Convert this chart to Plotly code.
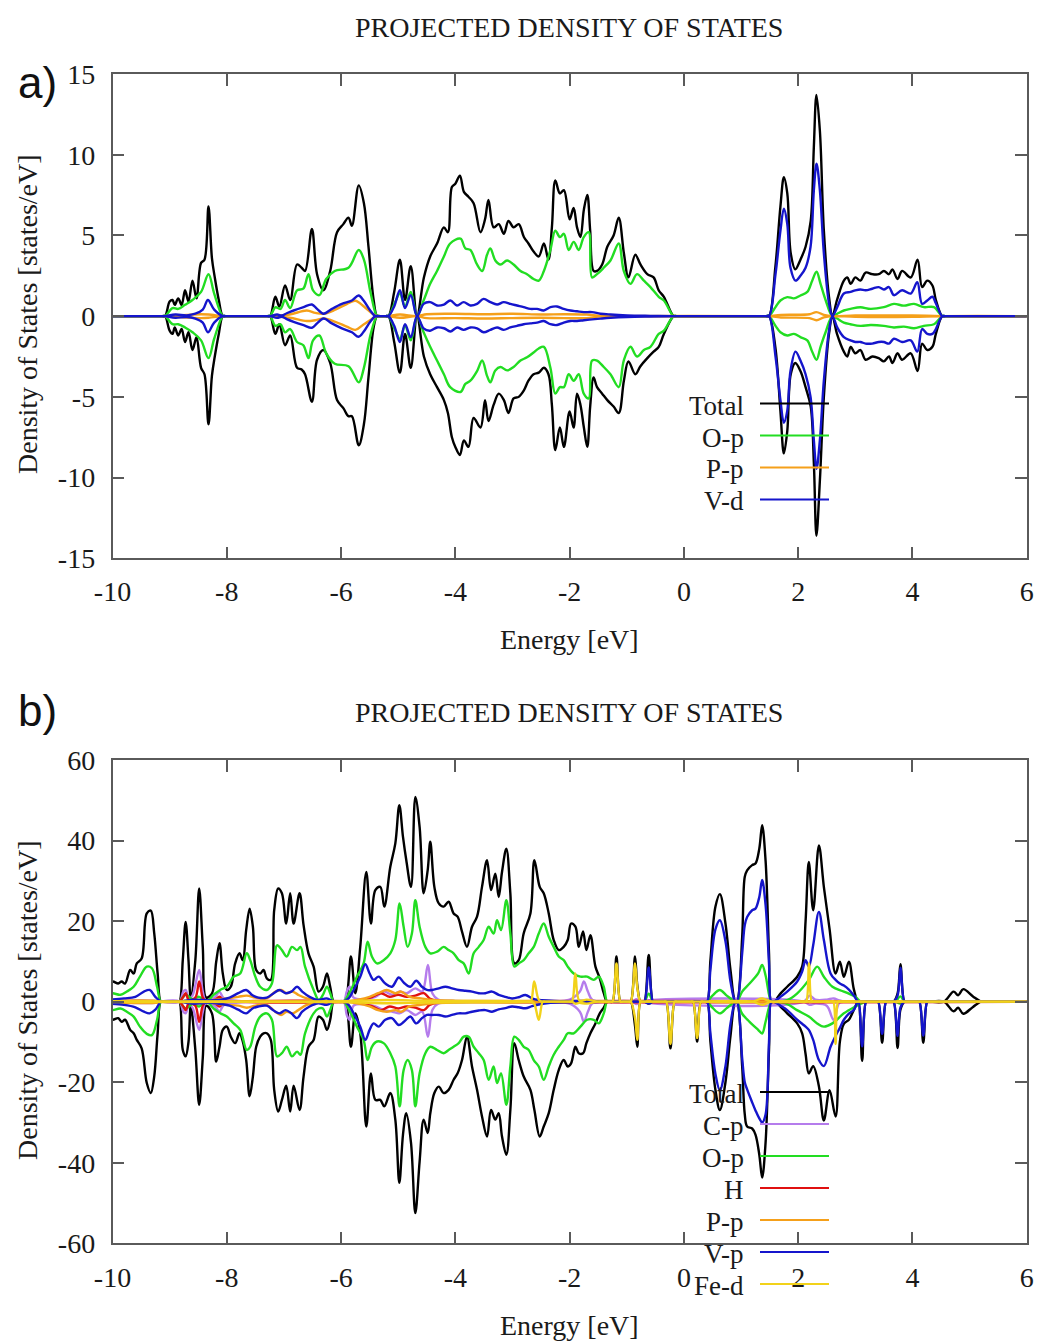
import plotly.graph_objects as go

# ---------------- Panel a data: (energy eV, spin-up DOS, spin-down DOS) ----------------
A_TOTAL = [(-10.0, 0, 0), (-9.13, 0, 0), (-9.08, 0, 0), (-9.0, 0.9, -0.9), (-8.95, 1.0, -1.1), (-8.91, 0.7, -0.7),
           (-8.85, 1.1, -1.2), (-8.79, 0.7, -0.8), (-8.73, 1.6, -1.6), (-8.67, 0.9, -1.0), (-8.6, 2.2, -2.1),
           (-8.53, 1.1, -1.3), (-8.45, 3.3, -3.2), (-8.39, 3.5, -3.6), (-8.32, 6.8, -6.7), (-8.26, 3.6, -3.7),
           (-8.21, 2.4, -2.5), (-8.14, 1.0, -1.1), (-8.07, 0, 0), (-8.02, 0, 0),
           (-7.29, 0, 0), (-7.24, 0, 0), (-7.15, 1.2, -1.1), (-7.08, 0.6, -0.5), (-6.98, 1.9, -1.8), (-6.89, 1.0, -1.2),
           (-6.77, 3.2, -3.2), (-6.69, 3.0, -3.3), (-6.63, 2.8, -3.6), (-6.51, 5.4, -5.3), (-6.42, 2.6, -2.7),
           (-6.31, 1.6, -2.1), (-6.19, 2.8, -2.9), (-6.07, 5.2, -5.2), (-5.96, 5.7, -5.7), (-5.87, 6.1, -6.2),
           (-5.81, 5.6, -6.2), (-5.69, 8.1, -8.0), (-5.6, 7.0, -6.7), (-5.52, 4.3, -3.8), (-5.43, 1.0, -0.7),
           (-5.37, 0, 0), (-5.32, 0, 0),
           (-5.22, 0, 0), (-5.17, 0, 0), (-5.07, 1.5, -1.6), (-4.97, 3.5, -3.5), (-4.88, 1.0, -1.1), (-4.78, 3.1, -3.2),
           (-4.67, 0, 0), (-4.55, 2.4, -2.5), (-4.44, 3.7, -3.6), (-4.32, 4.5, -4.4), (-4.2, 5.5, -5.2),
           (-4.13, 5.2, -6.0), (-4.06, 8.0, -7.5), (-4.0, 8.2, -8.1), (-3.92, 8.7, -8.6), (-3.85, 7.7, -7.7),
           (-3.77, 7.4, -8.1), (-3.68, 7.0, -6.3), (-3.56, 5.2, -6.9), (-3.48, 6.0, -5.2), (-3.42, 7.2, -6.5),
           (-3.33, 5.5, -5.5), (-3.24, 5.7, -4.8), (-3.15, 5.1, -5.2), (-3.07, 5.9, -6.0), (-2.98, 5.5, -5.1),
           (-2.89, 5.7, -5.0), (-2.8, 4.9, -4.6), (-2.72, 4.5, -4.0), (-2.63, 4.0, -3.6), (-2.54, 3.7, -3.5),
           (-2.45, 4.5, -3.2), (-2.37, 3.5, -3.6), (-2.31, 5.5, -5.5), (-2.25, 8.4, -8.3), (-2.17, 7.6, -6.9),
           (-2.1, 7.8, -8.1), (-2.0, 6.0, -5.9), (-1.93, 6.7, -6.9), (-1.87, 5.5, -4.8), (-1.81, 4.9, -5.5),
           (-1.75, 6.6, -6.9), (-1.69, 7.5, -8.1), (-1.64, 5.3, -5.6), (-1.58, 2.8, -3.8), (-1.52, 2.8, -4.4),
           (-1.43, 3.2, -4.8), (-1.34, 4.3, -5.2), (-1.23, 5.0, -5.6), (-1.14, 6.1, -6.0), (-1.05, 3.9, -4.0),
           (-0.97, 2.4, -2.8), (-0.85, 3.8, -3.6), (-0.76, 3.2, -3.1), (-0.64, 2.6, -2.6), (-0.53, 2.4, -2.2),
           (-0.44, 1.6, -1.9), (-0.35, 1.2, -1.1), (-0.18, 0, 0), (-0.12, 0, 0),
           (1.43, 0, 0), (1.49, 0, 0), (1.6, 3.0, -1.9), (1.69, 6.8, -5.9), (1.75, 8.6, -8.5), (1.81, 7.6, -7.1),
           (1.87, 3.9, -3.6), (1.95, 2.9, -2.9), (2.04, 3.5, -3.4), (2.13, 4.3, -4.4), (2.22, 5.9, -5.6),
           (2.275, 10.5, -9.1), (2.32, 13.7, -13.6), (2.38, 11.5, -10.2), (2.45, 5.3, -5.0), (2.54, 1.2, -1.1),
           (2.6, 0, 0), (2.68, 1.0, -1.1), (2.8, 2.2, -2.2), (2.86, 2.4, -2.5), (2.92, 2.0, -1.9), (3.0, 2.4, -2.3),
           (3.09, 2.2, -2.1), (3.18, 2.7, -2.7), (3.3, 2.6, -2.5), (3.41, 2.6, -2.6), (3.5, 2.8, -2.8),
           (3.59, 2.6, -2.5), (3.65, 2.9, -2.9), (3.74, 2.3, -2.3), (3.82, 2.8, -2.7), (3.97, 2.4, -2.3),
           (4.09, 3.5, -3.4), (4.17, 1.8, -1.7), (4.26, 2.2, -2.1), (4.35, 1.9, -1.9), (4.41, 1.0, -1.1),
           (4.52, 0, 0), (4.58, 0, 0), (6.2, 0, 0)]

A_OP = [(-10.0, 0, 0), (-9.13, 0, 0), (-9.08, 0, 0), (-8.95, 0.5, -0.5), (-8.85, 0.45, -0.5), (-8.73, 0.7, -0.7),
        (-8.6, 1.0, -1.0), (-8.45, 1.5, -1.5), (-8.32, 2.6, -2.6), (-8.22, 1.4, -1.4), (-8.07, 0, 0), (-8.02, 0, 0),
        (-7.29, 0, 0), (-7.24, 0, 0), (-7.15, 0.55, -0.6), (-7.06, 0.45, -0.5), (-6.98, 1.0, -1.0), (-6.89, 0.5, -0.8),
        (-6.77, 1.6, -1.6), (-6.66, 1.7, -1.8), (-6.57, 2.6, -2.6), (-6.49, 1.6, -1.5), (-6.38, 1.3, -1.2),
        (-6.26, 2.3, -2.3), (-6.11, 2.8, -2.95), (-5.87, 3.0, -3.1), (-5.69, 4.1, -4.1), (-5.6, 3.5, -3.2),
        (-5.48, 1.4, -1.1), (-5.37, 0, 0), (-5.32, 0, 0),
        (-5.22, 0, 0), (-5.17, 0, 0), (-5.05, 0.9, -0.9), (-4.97, 1.4, -1.4), (-4.88, 0.6, -0.6), (-4.78, 1.5, -1.5),
        (-4.67, 0, 0), (-4.555, 0.97, -1.0), (-4.44, 2.0, -1.9), (-4.32, 2.8, -2.75), (-4.2, 3.7, -3.6),
        (-4.09, 4.5, -4.4), (-3.91, 4.8, -4.7), (-3.825, 4.2, -4.2), (-3.737, 4.1, -4.0), (-3.62, 3.2, -3.4),
        (-3.53, 2.8, -2.75), (-3.445, 3.8, -3.7), (-3.387, 4.2, -4.1), (-3.3, 3.45, -3.36), (-3.21, 3.2, -3.15),
        (-3.095, 3.45, -3.36), (-2.98, 3.2, -3.15), (-2.86, 2.8, -2.75), (-2.745, 2.6, -2.55), (-2.63, 2.3, -2.25),
        (-2.54, 2.2, -2.0), (-2.45, 2.8, -1.9), (-2.336, 4.1, -3.2), (-2.25, 5.3, -4.8), (-2.17, 4.9, -4.4),
        (-2.1, 5.1, -4.4), (-2.015, 4.1, -3.6), (-1.928, 4.6, -4.0), (-1.84, 4.1, -3.6), (-1.752, 4.9, -4.8),
        (-1.665, 5.2, -5.1), (-1.607, 2.4, -2.75), (-1.52, 2.6, -2.75), (-1.402, 3.0, -3.15), (-1.285, 3.45, -3.6),
        (-1.14, 4.5, -4.4), (-1.052, 2.8, -2.75), (-0.935, 2.0, -1.9), (-0.82, 2.6, -2.5), (-0.7, 2.2, -2.1),
        (-0.585, 1.8, -1.9), (-0.44, 1.2, -1.1), (-0.35, 0.97, -0.9), (-0.18, 0, 0), (-0.12, 0, 0),
        (1.43, 0, 0), (1.49, 0, 0), (1.604, 0.56, -0.6), (1.69, 0.97, -1.0), (1.81, 1.18, -1.2), (1.925, 1.1, -1.1),
        (2.04, 1.28, -1.3), (2.16, 1.5, -1.5), (2.246, 2.2, -2.2), (2.322, 2.75, -2.7), (2.392, 2.0, -1.9),
        (2.48, 1.0, -1.0), (2.6, 0, 0), (2.684, 0.15, -0.15), (2.8, 0.35, -0.4), (2.917, 0.45, -0.5),
        (3.09, 0.55, -0.6), (3.27, 0.45, -0.55), (3.5, 0.56, -0.6), (3.676, 0.76, -0.7), (3.85, 0.65, -0.65),
        (4.027, 0.76, -0.75), (4.2, 0.56, -0.6), (4.377, 0.56, -0.5), (4.52, 0, 0), (4.58, 0, 0), (6.2, 0, 0)]

A_PP = [(-10.0, 0, 0), (-9.13, 0, 0), (-9.08, 0, 0), (-8.7, 0.08, -0.08), (-8.45, 0.12, -0.12), (-8.32, 0.1, -0.1),
        (-8.07, 0, 0), (-8.02, 0, 0), (-7.29, 0, 0), (-7.24, 0, 0), (-6.9, 0.1, -0.1), (-6.6, 0.35, -0.3),
        (-6.45, 0.2, -0.25), (-6.3, 0.15, -0.15), (-6.1, 0.4, -0.35), (-5.9, 0.75, -0.65), (-5.75, 0.95, -0.85),
        (-5.6, 0.6, -0.5), (-5.45, 0.15, -0.15), (-5.37, 0, 0), (-5.32, 0, 0), (-5.22, 0, 0), (-5.17, 0, 0),
        (-4.97, 0.1, -0.1), (-4.67, 0, 0), (-4.5, 0.12, -0.12), (-4.0, 0.15, -0.12), (-3.5, 0.12, -0.15),
        (-3.0, 0.15, -0.12), (-2.5, 0.1, -0.1), (-2.1, 0.12, -0.12), (-1.7, 0.1, -0.12), (-1.5, 0.03, -0.03),
        (-1.2, 0, 0), (1.43, 0, 0), (1.49, 0, 0), (1.7, 0.08, -0.08), (2.2, 0.12, -0.12), (2.32, 0.25, -0.25),
        (2.45, 0.08, -0.08), (2.6, 0, 0), (3.0, 0.04, -0.04), (4.0, 0.04, -0.04), (4.52, 0, 0), (6.2, 0, 0)]

A_VD = [(-10.0, 0, 0), (-9.13, 0, 0), (-9.08, 0, 0), (-8.9, 0.1, -0.1), (-8.7, 0.05, -0.05), (-8.55, 0.15, -0.15),
        (-8.42, 0.4, -0.4), (-8.33, 1.0, -1.0), (-8.22, 0.4, -0.4), (-8.07, 0, 0), (-8.02, 0, 0),
        (-7.29, 0, 0), (-7.24, 0, 0), (-7.12, 0.1, -0.1), (-7.035, 0.04, -0.04), (-6.95, 0.18, -0.18),
        (-6.83, 0.35, -0.35), (-6.656, 0.56, -0.56), (-6.51, 0.72, -0.72), (-6.42, 0.45, -0.45),
        (-6.306, 0.15, -0.15), (-6.16, 0.45, -0.45), (-5.985, 0.76, -0.76), (-5.81, 0.97, -1.0),
        (-5.693, 1.28, -1.28), (-5.605, 0.97, -0.97), (-5.49, 0.35, -0.35), (-5.4, 0, 0), (-5.35, 0, 0),
        (-5.22, 0, 0), (-5.17, 0, 0), (-5.07, 0.6, -0.6), (-4.97, 1.6, -1.6), (-4.88, 0.5, -0.5), (-4.78, 1.3, -1.3),
        (-4.67, 0, 0), (-4.555, 0.76, -0.76), (-4.44, 0.87, -0.9), (-4.32, 0.66, -0.7), (-4.2, 0.72, -0.75),
        (-4.087, 0.97, -0.95), (-3.97, 0.66, -0.7), (-3.854, 0.87, -0.85), (-3.737, 0.66, -0.7), (-3.62, 0.76, -0.75),
        (-3.504, 1.07, -1.0), (-3.387, 0.87, -0.85), (-3.27, 0.72, -0.7), (-3.153, 0.87, -0.85), (-3.037, 0.76, -0.7),
        (-2.92, 0.66, -0.6), (-2.803, 0.56, -0.5), (-2.686, 0.45, -0.45), (-2.57, 0.45, -0.4), (-2.453, 0.35, -0.3),
        (-2.336, 0.56, -0.5), (-2.22, 0.6, -0.55), (-2.103, 0.45, -0.4), (-1.986, 0.35, -0.3), (-1.87, 0.3, -0.3),
        (-1.752, 0.25, -0.25), (-1.607, 0.25, -0.2), (-1.46, 0.15, -0.15), (-1.285, 0.1, -0.1), (-0.994, 0.05, -0.05),
        (-0.585, 0.02, -0.02), (-0.18, 0, 0), (-0.12, 0, 0),
        (1.43, 0, 0), (1.49, 0, 0), (1.604, 2.6, -2.5), (1.69, 5.3, -5.2), (1.75, 6.65, -6.6), (1.81, 5.7, -5.85),
        (1.866, 3.0, -3.4), (1.954, 2.2, -2.2), (2.04, 2.5, -2.75), (2.13, 3.0, -3.6), (2.217, 4.3, -5.0),
        (2.275, 7.8, -7.7), (2.322, 9.45, -9.45), (2.38, 7.8, -7.7), (2.45, 3.9, -4.0), (2.54, 0.8, -0.9),
        (2.6, 0, 0), (2.684, 0.56, -0.7), (2.8, 1.4, -1.3), (2.917, 1.5, -1.5), (3.0, 1.6, -1.6), (3.09, 1.65, -1.6),
        (3.18, 1.6, -1.7), (3.297, 1.7, -1.7), (3.41, 1.8, -1.6), (3.5, 1.65, -1.6), (3.59, 1.8, -1.7),
        (3.676, 1.3, -1.4), (3.82, 1.6, -1.6), (3.97, 1.4, -1.5), (4.085, 2.1, -2.2), (4.17, 0.76, -0.8),
        (4.26, 0.97, -1.1), (4.35, 1.2, -1.1), (4.41, 0.8, -0.8), (4.52, 0, 0), (4.58, 0, 0), (6.2, 0, 0)]

# ---------------- Panel b data ----------------
B_TOTAL = [(-10.2, 4.2, -4.2), (-10.1, 4.5, -4.3), (-9.995, 5.0, -4.5), (-9.9, 4.5, -4.1), (-9.84, 5.0, -5.0),
           (-9.78, 4.5, -4.5), (-9.69, 7.85, -7.0), (-9.63, 7.0, -7.85), (-9.575, 9.5, -9.5), (-9.49, 10.7, -11.6),
           (-9.4, 21.9, -20.2), (-9.33, 22.6, -22.7), (-9.27, 17.0, -18.6), (-9.21, 7.0, -7.85), (-9.155, 0, 0),
           (-9.11, 0, 0), (-8.87, 0, 0), (-8.83, 0, 0), (-8.77, 10.3, -12.0), (-8.72, 19.8, -13.6),
           (-8.67, 10.3, -10.0), (-8.63, 1.0, -1.0), (-8.55, 10.3, -12.0), (-8.483, 28.1, -25.6), (-8.42, 13.6, -14.0),
           (-8.36, 1.0, -1.0), (-8.26, 2.0, -2.9), (-8.185, 9.9, -14.9), (-8.127, 14.5, -11.2), (-8.07, 7.0, -7.0),
           (-8.0, 2.9, -6.2), (-7.93, 3.7, -8.7), (-7.853, 9.5, -10.3), (-7.777, 12.0, -7.85), (-7.72, 10.3, -9.9),
           (-7.66, 17.8, -14.5), (-7.6, 23.1, -23.5), (-7.543, 18.6, -18.6), (-7.485, 7.85, -11.2), (-7.415, 7.0, -8.7),
           (-7.356, 7.85, -7.85), (-7.3, 5.8, -7.85), (-7.23, 5.4, -9.5), (-7.17, 22.7, -21.9), (-7.1, 28.1, -27.3),
           (-7.035, 26.9, -24.4), (-6.96, 19.4, -20.9), (-6.89, 26.9, -27.3), (-6.83, 19.4, -20.9),
           (-6.726, 26.9, -26.9), (-6.656, 19.0, -18.6), (-6.57, 12.0, -11.2), (-6.48, 8.7, -9.5), (-6.393, 2.5, -3.7),
           (-6.317, 3.7, -4.5), (-6.247, 7.0, -7.0), (-6.19, 3.7, -4.5), (-6.13, 0, 0), (-6.08, 0, 0),
           (-6.0, 0, 0), (-5.955, 0, 0), (-5.9, 1.5, -1.5), (-5.827, 11.2, -11.2), (-5.75, 2.1, -2.9),
           (-5.664, 13.6, -7.85), (-5.558, 32.2, -31.0), (-5.477, 19.4, -17.8), (-5.4, 27.7, -24.4),
           (-5.313, 28.5, -24.4), (-5.243, 23.6, -26.0), (-5.138, 33.5, -22.7), (-5.05, 39.3, -29.3),
           (-4.98, 48.8, -45.0), (-4.916, 40.9, -33.0), (-4.858, 35.1, -27.7), (-4.776, 28.5, -35.0),
           (-4.7, 50.8, -52.5), (-4.625, 43.4, -39.7), (-4.554, 26.9, -29.3), (-4.484, 32.6, -32.6),
           (-4.438, 39.7, -27.7), (-4.367, 28.5, -22.7), (-4.29, 24.4, -21.1), (-4.204, 23.6, -22.7),
           (-4.117, 24.8, -21.9), (-4.03, 21.9, -19.4), (-3.96, 21.1, -17.8), (-3.883, 17.4, -14.5),
           (-3.796, 13.6, -8.7), (-3.708, 18.6, -16.1), (-3.62, 21.1, -21.9), (-3.533, 28.5, -28.5),
           (-3.445, 35.1, -33.5), (-3.375, 27.7, -26.9), (-3.3, 31.8, -29.3), (-3.241, 26.0, -27.7),
           (-3.183, 32.2, -33.5), (-3.107, 38.0, -38.0), (-3.037, 26.9, -26.9), (-2.967, 9.5, -10.3),
           (-2.891, 10.3, -14.5), (-2.803, 17.0, -18.6), (-2.686, 21.9, -21.9), (-2.616, 35.1, -26.9),
           (-2.523, 28.5, -33.5), (-2.453, 26.9, -31.0), (-2.365, 21.9, -27.7), (-2.278, 15.3, -21.9),
           (-2.19, 12.8, -17.0), (-2.103, 13.6, -14.5), (-2.033, 15.3, -16.1), (-1.974, 19.4, -15.3),
           (-1.898, 18.6, -11.2), (-1.84, 13.6, -12.8), (-1.764, 17.4, -12.8), (-1.706, 12.8, -10.3),
           (-1.636, 16.5, -7.85), (-1.548, 8.7, -5.4), (-1.472, 5.8, -2.9), (-1.402, 2.1, -1.5), (-1.344, 0, 0),
           (-1.3, 0, 0), (-1.25, 0, 0), (-1.18, 11.2, 0), (-1.11, 0, 0), (-1.07, 0, 0), (-0.97, 0, 0),
           (-0.93, 0, 0), (-0.855, 11.2, -6.0), (-0.815, 4.0, -11.2), (-0.76, 0, 0), (-0.72, 0, 0), (-0.69, 0, 0),
           (-0.615, 11.6, -0.5), (-0.54, 0, 0), (-0.5, 0, 0), (-0.35, 0, 0), (-0.31, 0, 0), (-0.235, 0, -11.6),
           (-0.16, 0, 0), (-0.12, 0, 0), (0.12, 0, 0), (0.16, 0, 0), (0.232, 0, -9.9), (0.3, 0, 0), (0.36, 0, 0),
           (0.407, 0, 0), (0.465, 10.3, -10.0), (0.553, 23.6, -22.0), (0.63, 26.7, -26.9), (0.728, 19.4, -20.0),
           (0.816, 7.85, -8.5), (0.9, 0, 0), (0.93, 0, 0), (1.02, 16.0, -16.0), (1.066, 31.0, -28.0),
           (1.107, 32.6, -31.0), (1.195, 33.9, -31.5), (1.253, 34.3, -33.0), (1.32, 38.0, -38.0), (1.37, 43.8, -43.7),
           (1.43, 35.0, -35.0), (1.49, 12.0, -12.0), (1.53, 0, 0), (1.575, 0, 0), (1.69, 2.0, -1.2),
           (1.808, 3.7, -2.9), (1.983, 6.2, -5.4), (2.07, 8.7, -7.85), (2.13, 20.0, -13.0), (2.187, 34.7, -17.8),
           (2.263, 22.7, -16.0), (2.363, 38.8, -21.0), (2.45, 28.5, -29.5), (2.55, 18.0, -22.0), (2.655, 7.0, -28.5),
           (2.73, 9.9, -10.0), (2.8, 6.2, -5.5), (2.888, 9.9, -4.5), (2.976, 3.0, -2.0), (3.05, 0, 0),
           (3.12, 0, -14.7), (3.19, 0, 0), (3.23, 0, 0), (3.36, 0, 0), (3.4, 0, 0), (3.47, 0, -10.2), (3.54, 0, 0),
           (3.58, 0, 0), (3.63, 0, 0), (3.67, 0, 0), (3.74, 2.0, -11.5), (3.79, 9.3, -2.0), (3.86, 0, 0),
           (3.9, 0, 0), (4.08, 0, 0), (4.12, 0, 0), (4.19, 0, -10.2), (4.26, 0, 0), (4.3, 0, 0),
           (4.55, 0, 0), (4.72, 2.5, -2.4), (4.8, 1.6, -1.5), (4.89, 3.1, -3.0), (5.06, 1.3, -1.3), (5.2, 0, 0),
           (5.25, 0, 0), (6.2, 0, 0)]

B_CP = [(-10.2, 0.2, -0.2), (-9.2, 0.2, -0.2), (-9.155, 0, 0), (-8.83, 0, 0), (-8.76, 2.5, -2.5), (-8.72, 2.9, -2.9),
        (-8.66, 0.8, -0.8), (-8.6, 1.5, -1.5), (-8.483, 7.85, -7.0), (-8.42, 2.5, -2.5), (-8.36, 0, 0),
        (-8.2, 1.2, -1.2), (-8.13, 2.5, -2.5), (-8.05, 0.8, -0.8), (-7.8, 0.2, -0.2), (-6.13, 0.1, -0.1),
        (-5.955, 0, 0), (-5.9, 2.5, -3.3), (-5.85, 3.7, -4.5), (-5.78, 1.0, -1.0), (-5.6, 0.6, -0.6),
        (-5.4, 1.2, -1.2), (-5.25, 2.5, -2.1), (-5.1, 1.7, -2.5), (-4.98, 2.5, -2.9), (-4.85, 2.1, -2.1),
        (-4.7, 3.3, -3.3), (-4.58, 2.5, -2.5), (-4.48, 9.1, -8.7), (-4.4, 2.0, -2.0), (-4.3, 0.5, -0.5),
        (-4.0, 0.2, -0.2), (-2.5, 0.2, -0.2), (-2.0, 0.5, -0.5), (-1.82, 2.5, -2.5), (-1.75, 5.0, -5.0),
        (-1.68, 2.5, -2.5), (-1.6, 0.4, -0.4), (-1.344, 0, 0), (-0.9, 0, 0), (-0.83, 0.6, -0.6), (-0.76, 0, 0),
        (2.1, 0, 0), (2.2, 1.5, -0.8), (2.3, 0.5, -0.5), (2.5, 0.5, -1.0), (2.62, 0.8, -4.5), (2.72, 0.3, -0.3),
        (2.82, 0, 0), (2.88, 0, 0), (6.2, 0, 0)]

B_OP = [(-10.2, 2.0, -2.0), (-10.1, 2.1, -2.1), (-9.995, 2.1, -2.1), (-9.86, 1.7, -1.7), (-9.75, 2.5, -2.5),
        (-9.63, 3.7, -3.7), (-9.52, 6.2, -6.2), (-9.4, 8.7, -8.0), (-9.31, 8.3, -8.3), (-9.22, 3.7, -4.5),
        (-9.155, 0, 0), (-9.11, 0, 0), (-8.87, 0, 0), (-8.83, 0, 0), (-8.72, 1.7, -1.7), (-8.6, 0.6, -0.6),
        (-8.483, 1.2, -1.2), (-8.36, 0, 0), (-8.23, 1.7, -1.7), (-8.115, 2.9, -2.9), (-8.0, 3.7, -3.7),
        (-7.88, 6.2, -5.4), (-7.765, 7.0, -7.0), (-7.65, 12.0, -12.0), (-7.59, 10.3, -11.2), (-7.5, 6.2, -6.2),
        (-7.415, 3.7, -3.7), (-7.3, 2.9, -2.9), (-7.21, 4.5, -4.5), (-7.12, 14.0, -13.6), (-7.035, 12.8, -12.8),
        (-6.95, 11.2, -11.2), (-6.86, 13.6, -13.6), (-6.77, 12.8, -12.4), (-6.71, 13.6, -13.2), (-6.63, 8.7, -7.85),
        (-6.48, 2.9, -2.9), (-6.39, 0.4, -1.7), (-6.317, 1.7, -1.7), (-6.247, 3.7, -3.7), (-6.19, 2.1, -2.1),
        (-6.13, 0, 0), (-6.08, 0, 0), (-6.0, 0, 0), (-5.955, 0, 0), (-5.827, 2.9, -2.9), (-5.722, 6.2, -6.2),
        (-5.605, 9.5, -9.5), (-5.535, 14.9, -14.5), (-5.46, 11.2, -11.2), (-5.372, 9.5, -9.9), (-5.255, 10.3, -10.3),
        (-5.138, 12.0, -12.8), (-5.05, 15.3, -16.1), (-4.975, 24.4, -26.0), (-4.905, 18.6, -17.0),
        (-4.835, 13.6, -14.5), (-4.76, 16.9, -17.0), (-4.7, 25.2, -26.0), (-4.625, 18.6, -17.8),
        (-4.525, 13.6, -12.8), (-4.438, 12.0, -11.2), (-4.32, 12.4, -12.0), (-4.204, 13.6, -12.8),
        (-4.117, 12.8, -12.0), (-4.03, 12.0, -11.2), (-3.94, 10.3, -10.3), (-3.854, 9.5, -8.7), (-3.766, 7.0, -8.7),
        (-3.679, 12.0, -11.2), (-3.59, 13.6, -12.8), (-3.504, 15.3, -14.5), (-3.416, 18.6, -19.4),
        (-3.33, 16.9, -16.1), (-3.27, 20.2, -20.2), (-3.2, 17.8, -17.8), (-3.107, 25.2, -25.6), (-3.037, 16.9, -16.1),
        (-2.967, 8.7, -8.7), (-2.891, 9.5, -9.5), (-2.803, 10.3, -11.2), (-2.716, 12.0, -12.0), (-2.628, 13.6, -14.5),
        (-2.54, 16.9, -16.1), (-2.453, 19.4, -19.4), (-2.365, 16.1, -16.1), (-2.278, 13.6, -13.2),
        (-2.19, 11.2, -11.2), (-2.103, 10.3, -9.5), (-2.033, 8.7, -7.85), (-1.928, 7.0, -7.85), (-1.81, 6.2, -6.2),
        (-1.694, 6.2, -4.5), (-1.577, 5.4, -4.5), (-1.49, 6.2, -5.4), (-1.402, 3.7, -2.9), (-1.344, 0, 0),
        (-1.3, 0, 0), (-0.73, 0, 0), (-0.69, 0, 0), (-0.615, 2.0, -0.3), (-0.54, 0, 0), (-0.5, 0, 0), (0.36, 0, 0),
        (0.407, 0, 0), (0.5, 1.5, -1.5), (0.63, 2.9, -2.9), (0.75, 1.5, -1.6), (0.9, 0, 0), (0.93, 0, 0),
        (1.02, 2.5, -3.0), (1.15, 4.5, -5.0), (1.3, 7.0, -7.0), (1.37, 9.1, -7.9), (1.43, 6.5, -5.0), (1.53, 0, 0),
        (1.575, 0, 0), (1.81, 0.4, -0.6), (1.98, 2.0, -2.1), (2.187, 5.4, -3.7), (2.333, 8.7, -5.4),
        (2.45, 6.2, -6.2), (2.6, 3.7, -5.4), (2.8, 2.5, -2.9), (3.0, 1.2, -1.2), (3.1, 0, -0.5), (3.2, 0, 0),
        (3.66, 0, 0), (3.7, 0, 0), (3.79, 1.3, -0.5), (3.86, 0, 0), (3.9, 0, 0), (6.2, 0, 0)]

B_H = [(-10.2, 0, 0), (-8.87, 0, 0), (-8.83, 0, 0), (-8.76, 1.2, -1.2), (-8.72, 2.1, -2.1), (-8.66, 0.3, -0.3),
       (-8.55, 1.0, -1.0), (-8.483, 5.0, -5.0), (-8.42, 1.0, -1.0), (-8.36, 0, 0), (-8.2, 0.5, -0.5),
       (-8.13, 1.2, -1.2), (-8.05, 0.2, -0.2), (-7.9, 0, 0), (-5.8, 0, 0), (-5.6, 0.5, -0.5), (-5.45, 1.2, -1.2),
       (-5.3, 2.1, -2.1), (-5.15, 1.2, -1.2), (-5.0, 1.7, -1.7), (-4.85, 1.2, -1.2), (-4.7, 1.5, -1.5),
       (-4.55, 2.1, -2.1), (-4.45, 0.8, -0.8), (-4.3, 0.2, -0.2), (-4.0, 0, 0), (6.2, 0, 0)]

B_PP = [(-10.2, 0.2, -0.2), (-9.2, 0.2, -0.2), (-9.155, 0, 0), (-8.83, 0, 0), (-8.5, 0.4, -0.4), (-8.36, 0, 0),
        (-8.2, 0.5, -0.5), (-8.0, 0.8, -0.8), (-7.8, 1.2, -1.0), (-7.65, 1.5, -1.5), (-7.5, 1.0, -1.0),
        (-7.3, 0.8, -0.8), (-7.15, 2.5, -2.5), (-7.05, 2.9, -3.3), (-6.95, 2.1, -2.5), (-6.85, 2.5, -2.9),
        (-6.75, 1.7, -2.1), (-6.6, 0.8, -0.8), (-6.4, 0.3, -0.3), (-6.13, 0, 0), (-5.955, 0, 0), (-5.7, 0.5, -0.5),
        (-5.5, 1.2, -1.2), (-5.35, 2.1, -2.1), (-5.2, 2.9, -2.5), (-5.05, 2.1, -2.1), (-4.95, 2.5, -2.5),
        (-4.8, 1.2, -1.2), (-4.6, 0.8, -0.8), (-4.4, 0.4, -0.4), (-4.0, 0.2, -0.2), (-3.0, 0.2, -0.2),
        (-2.0, 0.1, -0.1), (-1.344, 0, 0), (6.2, 0, 0)]

B_VP = [(-10.2, 0.4, -0.4), (-9.8, 0.8, -0.8), (-9.6, 1.2, -1.4), (-9.45, 2.5, -2.5), (-9.35, 2.9, -2.9),
        (-9.25, 1.2, -2.0), (-9.155, 0, 0), (-9.11, 0, 0), (-8.87, 0, 0), (-8.83, 0, 0), (-8.6, 0.5, -0.5),
        (-8.3, 0.3, -0.3), (-8.1, 0.5, -0.6), (-7.95, 1.0, -1.0), (-7.8, 2.1, -2.0), (-7.66, 2.9, -2.9),
        (-7.55, 1.6, -1.7), (-7.45, 1.0, -1.2), (-7.3, 1.0, -1.0), (-7.18, 2.1, -2.2), (-7.08, 2.9, -2.9),
        (-6.97, 2.1, -2.1), (-6.87, 2.5, -2.9), (-6.77, 3.7, -4.1), (-6.68, 2.5, -2.5), (-6.55, 1.2, -1.2),
        (-6.4, 0.4, -0.4), (-6.25, 0.8, -0.8), (-6.13, 0, 0), (-6.0, 0, 0), (-5.955, 0, 0), (-5.868, 0.8, -0.8),
        (-5.78, 2.9, -2.9), (-5.664, 6.2, -6.2), (-5.576, 9.3, -9.5), (-5.5, 7.0, -7.0), (-5.43, 5.4, -5.4),
        (-5.343, 6.2, -6.2), (-5.226, 4.5, -4.5), (-5.11, 3.7, -4.1), (-4.99, 6.0, -5.8), (-4.9, 4.7, -5.0),
        (-4.788, 3.7, -3.7), (-4.683, 5.2, -5.4), (-4.584, 3.7, -4.1), (-4.496, 2.9, -3.3), (-4.41, 2.9, -3.3),
        (-4.29, 3.3, -3.3), (-4.175, 3.7, -3.7), (-4.058, 3.3, -3.3), (-3.94, 2.9, -2.9), (-3.825, 2.7, -2.9),
        (-3.708, 2.5, -2.5), (-3.59, 2.1, -2.2), (-3.475, 2.1, -2.1), (-3.358, 2.5, -2.5), (-3.241, 1.7, -1.9),
        (-3.124, 1.2, -1.6), (-3.007, 0.8, -1.2), (-2.89, 1.1, -1.4), (-2.774, 1.65, -1.65), (-2.657, 0.8, -1.1),
        (-2.54, 0.4, -0.7), (-2.336, 0.25, -0.3), (-2.103, 0.1, -0.15), (-1.752, 0.2, -0.2), (-1.344, 0, 0),
        (-0.73, 0, 0), (-0.69, 0, 0), (-0.615, 8.5, -0.5), (-0.54, 0, 0), (-0.5, 0, 0), (0.36, 0, 0),
        (0.407, 0, 0), (0.465, 8.0, -8.0), (0.553, 18.0, -18.0), (0.63, 20.2, -22.0), (0.728, 15.0, -16.0),
        (0.816, 5.0, -5.5), (0.9, 0, 0), (0.93, 0, 0), (1.02, 12.0, -14.0), (1.066, 19.0, -20.0),
        (1.107, 21.0, -21.8), (1.195, 22.7, -25.0), (1.253, 23.1, -27.0), (1.32, 26.0, -29.0), (1.37, 30.2, -30.0),
        (1.43, 24.0, -28.0), (1.49, 9.5, -10.0), (1.53, 0, 0), (1.575, 0, 0), (1.69, 1.2, -1.0),
        (1.808, 2.5, -2.1), (1.983, 5.0, -4.5), (2.07, 7.5, -5.5), (2.13, 10.3, -6.2), (2.187, 8.7, -7.0),
        (2.263, 14.0, -9.5), (2.363, 22.3, -14.5), (2.45, 15.3, -16.0), (2.567, 7.0, -11.2), (2.655, 5.4, -8.5),
        (2.73, 4.5, -6.5), (2.8, 4.0, -4.5), (2.888, 3.0, -3.0), (2.976, 1.5, -2.0), (3.05, 0, 0),
        (3.12, 0, -11.1), (3.19, 0, 0), (3.23, 0, 0), (3.36, 0, 0), (3.4, 0, 0), (3.47, 0, -8.0), (3.54, 0, 0),
        (3.58, 0, 0), (3.63, 0, 0), (3.67, 0, 0), (3.74, 1.5, -8.5), (3.79, 8.4, -1.5), (3.86, 0, 0),
        (3.9, 0, 0), (4.08, 0, 0), (4.12, 0, 0), (4.19, 0, -8.4), (4.26, 0, 0), (4.3, 0, 0), (6.2, 0, 0)]

B_FED = [(-10.2, 0.1, -0.1), (-6.0, 0.1, -0.1), (-5.2, 0.4, -0.4), (-4.5, 0.2, -0.2), (-3.0, 0.1, -0.1),
         (-2.75, 0, 0), (-2.68, 0, 0), (-2.62, 5.0, -0.5), (-2.54, 0.5, -4.5), (-2.47, 0, 0), (-2.43, 0, 0),
         (-2.02, 0, 0), (-1.96, 0, 0), (-1.9, 7.0, -0.5), (-1.83, 0.3, -0.3), (-1.7, 0.5, -0.5), (-1.5, 0, 0),
         (-1.29, 0, 0), (-1.25, 0, 0), (-1.18, 9.5, 0), (-1.11, 0, 0), (-1.07, 0, 0), (-0.97, 0, 0),
         (-0.93, 0, 0), (-0.855, 9.5, -4.0), (-0.815, 3.5, -9.5), (-0.76, 0, 0), (-0.72, 0, 0), (-0.35, 0, 0),
         (-0.31, 0, 0), (-0.235, 0, -10.5), (-0.16, 0, 0), (-0.12, 0, 0), (0.12, 0, 0), (0.16, 0, 0),
         (0.232, 0, -9.0), (0.3, 0, 0), (0.34, 0, 0), (1.2, 0, 0), (1.37, 0.8, -0.8), (1.53, 0, 0), (2.1, 0, 0),
         (2.14, 0, 0), (2.19, 9.5, 0), (2.24, 0, 0), (2.28, 0, 0), (2.58, 0, 0), (2.615, 0, 0), (2.655, 0, -10.5),
         (2.7, 0, 0), (2.74, 0, 0), (6.2, 0, 0)]

# Series: (label, rows, colour)
PANEL_A = [("Total", A_TOTAL, "#000000"), ("O-p", A_OP, "#22dd22"),
           ("P-p", A_PP, "#f5a01a"), ("V-d", A_VD, "#1515cc")]
PANEL_B = [("Total", B_TOTAL, "#000000"), ("C-p", B_CP, "#b57cec"), ("O-p", B_OP, "#22dd22"),
           ("H", B_H, "#e01010"), ("P-p", B_PP, "#f5a01a"), ("V-p", B_VP, "#1515cc"),
           ("Fe-d", B_FED, "#f2d21a")]

X_TICKS = [-10, -8, -6, -4, -2, 0, 2, 4, 6]
YA_TICKS = [-15, -10, -5, 0, 5, 10, 15]
YB_TICKS = [-60, -40, -20, 0, 20, 40, 60]

TITLE = "PROJECTED DENSITY OF STATES"
XLABEL = "Energy [eV]"
YLABEL = "Density of States [states/eV]"

# ---------------- figure ----------------
W, H = 1040, 1342
SERIF = "Liberation Serif, Times New Roman, serif"
FS = 28
AXC = "#5a5a5a"


def fx(p):
    return p / W


def fy(p):
    return 1 - p / H


fig = go.Figure()


def add_panel(series, xa, ya):
    for name, rows, color in series:
        e = [r[0] for r in rows]
        for k in (1, 2):
            fig.add_trace(go.Scatter(
                x=e, y=[r[k] for r in rows], mode="lines", name=name,
                line=dict(color=color, width=2.4, shape="spline", smoothing=1.0),
                xaxis=xa, yaxis=ya, showlegend=False, hoverinfo="skip"))


add_panel(PANEL_A, "x", "y")
add_panel(PANEL_B, "x2", "y2")

XDOM = [fx(112.5), fx(1026.7)]
axis_common = dict(showline=True, linecolor=AXC, linewidth=1.5, mirror="ticks", ticks="inside",
                   ticklen=12, tickwidth=1.5, tickcolor=AXC, showgrid=False, zeroline=False,
                   automargin=False, tickfont=dict(family=SERIF, size=FS, color="#1a1a1a"))


def labels(vals):
    return [str(v) for v in vals]  # plain hyphen-minus as in the reference


fig.update_layout(
    template="none",
    width=W, height=H, margin=dict(l=0, r=0, t=0, b=0, pad=0), autosize=False,
    paper_bgcolor="white", plot_bgcolor="white", showlegend=False,
    xaxis=dict(domain=XDOM, range=[-10, 6], tickvals=X_TICKS, ticktext=labels(X_TICKS), anchor="y",
               ticklabelstandoff=7, **axis_common),
    yaxis=dict(domain=[fy(558.3), fy(74)], range=[-15, 15], tickvals=YA_TICKS, ticktext=labels(YA_TICKS),
               anchor="x", ticklabelstandoff=10, **axis_common),
    xaxis2=dict(domain=XDOM, range=[-10, 6], tickvals=X_TICKS, ticktext=labels(X_TICKS), anchor="y2",
                ticklabelstandoff=8, **axis_common),
    yaxis2=dict(domain=[fy(1243.3), fy(760)], range=[-60, 60], tickvals=YB_TICKS, ticktext=labels(YB_TICKS),
                anchor="x2", ticklabelstandoff=10, **axis_common),
)

ann = []
shapes = []
font = dict(family=SERIF, size=FS, color="#1a1a1a")
for ty in (27, 713):
    ann.append(dict(text=TITLE, x=fx(569), y=fy(ty), xref="paper", yref="paper", showarrow=False,
                    xanchor="center", yanchor="middle", font=font))
for xl_y in (639, 1325):
    ann.append(dict(text=XLABEL, x=fx(569), y=fy(xl_y), xref="paper", yref="paper", showarrow=False,
                    xanchor="center", yanchor="middle", font=font))
for yl_y in (314, 1000):
    ann.append(dict(text=YLABEL, x=fx(27), y=fy(yl_y), xref="paper", yref="paper", showarrow=False,
                    textangle=-90, xanchor="center", yanchor="middle", font=font))
for lab, ly in (("a)", 82), ("b)", 710)):
    ann.append(dict(text=lab, x=fx(16), y=fy(ly), xref="paper", yref="paper", showarrow=False,
                    xanchor="left", yanchor="middle",
                    font=dict(family="Liberation Sans, DejaVu Sans, sans-serif", size=44, color="#111111")))

for series, y0 in ((PANEL_A, 403.5), (PANEL_B, 1092)):
    for i, (name, rows, color) in enumerate(series):
        yy = y0 + 32 * i
        ann.append(dict(text=name, x=fx(746), y=fy(yy + 2), xref="paper", yref="paper", showarrow=False,
                        xanchor="right", yanchor="middle", font=dict(family=SERIF, size=27, color="#1a1a1a")))
        shapes.append(dict(type="line", xref="paper", yref="paper", x0=fx(760), x1=fx(829),
                           y0=fy(yy), y1=fy(yy), line=dict(color=color, width=2), layer="above"))

fig.update_layout(annotations=ann, shapes=shapes)
fig.write_html("out.html")
